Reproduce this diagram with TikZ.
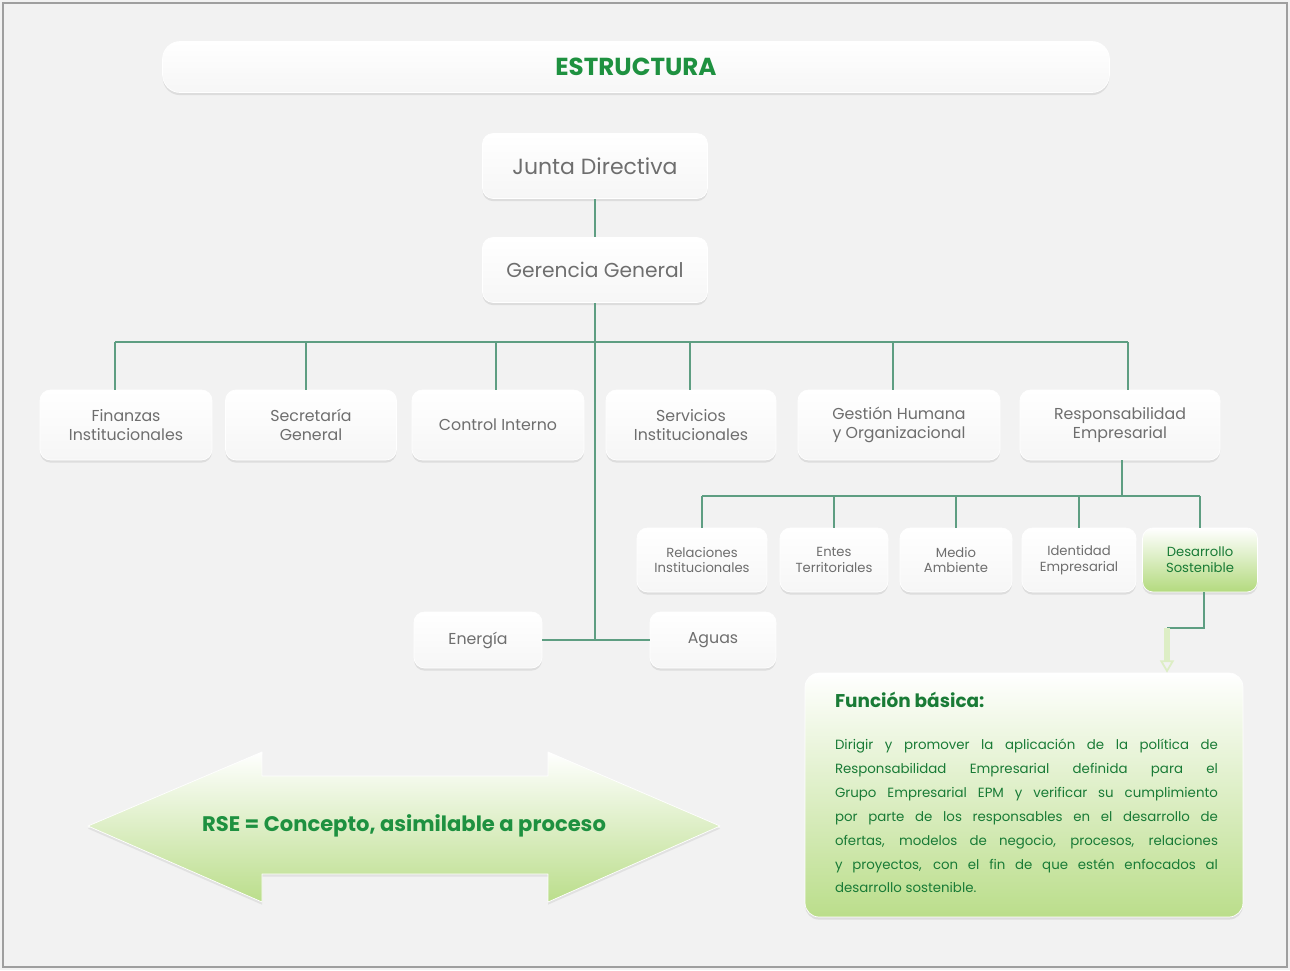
\documentclass[tikz,border=0pt]{standalone}
\usepackage{fontspec}
\setmainfont{Poppins}
\usepackage{tikz}
\usetikzlibrary{arrows.meta,shadows,positioning}

\definecolor{verde}{HTML}{1E9140}
\definecolor{linea}{HTML}{5E9E82}
\definecolor{gris}{HTML}{6E6E6E}
\definecolor{fondo}{HTML}{F2F2F2}
\definecolor{verdeclaro}{HTML}{B3DA7E}

\tikzset{
  caja/.style={rounded corners=6pt, top color=white, bottom color=gray!7, draw=white,
    text=gris, align=center, inner sep=2pt,
    drop shadow={opacity=0.18, shadow xshift=0pt, shadow yshift=-1.5pt}},
  area/.style={caja, minimum height=1.4cm, font=\fontsize{9}{10.5}\selectfont},
  subarea/.style={caja, minimum height=1.28cm, font=\fontsize{7.5}{9}\selectfont},
  conector/.style={draw=linea, line width=0.9pt},
}

\begin{document}
\begin{tikzpicture}[x=0.02cm, y=-0.02cm]
% fondo y marco
\useasboundingbox (0,0) rectangle (1290,970);
\fill[fondo] (0,0) rectangle (1290,970);
\draw[gray!75, line width=1.2pt] (3,3) rectangle (1287,967);

% titulo
\node[caja, rounded corners=10pt, minimum width=18.94cm, minimum height=1.02cm, text=verde,
  font=\bfseries\fontsize{14}{16}\selectfont] (titulo) at (636,67) {ESTRUCTURA};

% nivel superior
\node[caja, minimum width=4.5cm, minimum height=1.3cm, font=\fontsize{12.5}{14}\selectfont] (junta) at (595,166) {Junta Directiva};
\node[caja, minimum width=4.5cm, minimum height=1.3cm, font=\fontsize{11.5}{14}\selectfont] (gerencia) at (595,270) {Gerencia General};

% areas
\foreach \nombre/\x/\ancho/\texto in {finanzas/126/3.44/{Finanzas\\Institucionales},
    secretaria/311/3.42/{Secretaría\\General}, control/498/3.44/{Control Interno},
    servicios/691/3.4/{Servicios\\Institucionales}, gestion/899/4.04/{Gestión Humana\\y Organizacional},
    responsabilidad/1120/4.0/{Responsabilidad\\Empresarial}}
  \node[area, minimum width=\ancho cm] (\nombre) at (\x,425) {\texto};

% subareas de responsabilidad
\foreach \nombre/\x/\ancho/\texto in {relaciones/702/2.6/{Relaciones\\Institucionales},
    entes/834/2.16/{Entes\\Territoriales}, medio/956/2.24/{Medio\\Ambiente},
    identidad/1079/2.28/{Identidad\\Empresarial}}
  \node[subarea, minimum width=\ancho cm] (\nombre) at (\x,560) {\texto};
\node[subarea, minimum width=2.3cm, bottom color=verdeclaro, text=verde!85!black] (desarrollo) at (1200,560) {Desarrollo\\Sostenible};

% filiales
\node[caja, minimum width=2.56cm, minimum height=1.12cm, font=\fontsize{9}{10.5}\selectfont] (energia) at (478,640) {Energía};
\node[caja, minimum width=2.52cm, minimum height=1.12cm, font=\fontsize{9}{10.5}\selectfont] (aguas) at (713,640) {Aguas};

% lineas
\coordinate (bus) at (595,342);
\coordinate (subbus) at (1122,496);
\draw[conector] (junta) -- (gerencia);
\draw[conector] (gerencia) -- (gerencia |- energia);
\draw[conector] (energia) -- (aguas);
\draw[conector] ([xshift=-0.22cm]finanzas.north |- bus) -- ([xshift=0.16cm]responsabilidad.north |- bus);
\foreach \n/\d in {finanzas/-11,secretaria/-5,control/-2,servicios/-1,gestion/-6,responsabilidad/8}
  \draw[conector] ([xshift=\d*0.02cm]\n.north) -- ([xshift=\d*0.02cm]\n.north |- bus);
\draw[conector] ([xshift=0.04cm]responsabilidad.south) -- ([xshift=0.04cm]responsabilidad.south |- subbus);
\draw[conector] (relaciones.north |- subbus) -- (desarrollo.north |- subbus);
\foreach \n in {relaciones,entes,medio,identidad,desarrollo}
  \draw[conector] (\n.north) -- (\n.north |- subbus);

% funcion basica
\node[caja, rounded corners=8pt, top color=white, middle color=verdeclaro!25, bottom color=verdeclaro!90,
  minimum width=8.76cm, minimum height=4.88cm] (funcion) at (1024,795) {};
\coordinate (codo) at (1204,628);
\coordinate (codo2) at (1167,628);
\draw[conector] (desarrollo.south -| codo) -- (codo) -- (codo2);
\draw[draw=verdeclaro!45, line width=3pt, -{Triangle[open, length=7pt, width=8pt, line width=1pt]}] (codo2) -- (codo2 |- funcion.north);
\node[anchor=west, inner sep=0, text=verde!85!black, font=\bfseries\fontsize{10.5}{12}\selectfont] (titfuncion)
  at ([xshift=0.6cm, yshift=-0.54cm]funcion.north west) {Función básica:};
\node[anchor=north west, inner sep=0, text width=7.66cm, align=justify, text=verde!85!black,
  font=\fontsize{7.6}{13.6}\selectfont] (cuerpo) at ([xshift=0.6cm, yshift=-1.32cm]funcion.north west)
  {Dirigir y promover la aplicación de la política de\linebreak
   Responsabilidad Empresarial definida para el\linebreak
   Grupo Empresarial EPM y verificar su cumplimiento\linebreak
   por parte de los responsables en el desarrollo de\linebreak
   ofertas, modelos de negocio, procesos, relaciones\linebreak
   y proyectos, con el fin de que estén enfocados al\linebreak
   desarrollo sostenible.};

% flecha doble
\draw[top color=white, middle color=verdeclaro!30, bottom color=verdeclaro!90, draw=white, line join=round,
  drop shadow={opacity=0.15, shadow xshift=0pt, shadow yshift=-1.5pt}]
  (88,826) -- (262,752) -- (262,776) -- (548,776) -- (548,752) -- (720,826)
  -- (548,902) -- (548,874) -- (262,874) -- (262,902) -- cycle;
\node[text=verde, font=\bfseries\fontsize{12}{14}\selectfont] (rse) at (404,826) {RSE = Concepto, asimilable a proceso};
\end{tikzpicture}
\end{document}
